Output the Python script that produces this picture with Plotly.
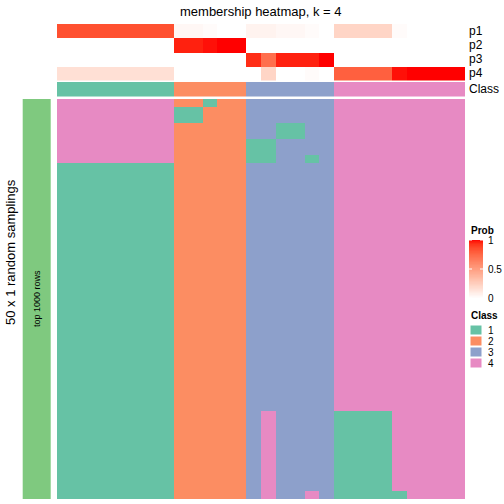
import numpy as np
import plotly.graph_objects as go

# ---------------- data ----------------
columns = list(range(1, 29))
col_class = [1, 1, 1, 1, 1, 1, 1, 1,
             2, 2, 2, 2, 2,
             3, 3, 3, 3, 3, 3,
             4, 4, 4, 4, 4, 4, 4, 4, 4]
p1 = [0.84, 0.84, 0.84, 0.84, 0.84, 0.84, 0.84, 0.84,
      0.04, 0.04, 0.02, 0.00, 0.00,
      0.06, 0.06, 0.04, 0.04, 0.02, 0.00,
      0.22, 0.22, 0.22, 0.22, 0.02, 0.00, 0.00, 0.00, 0.00]
p2 = [0.00, 0.00, 0.00, 0.00, 0.00, 0.00, 0.00, 0.00,
      0.96, 0.96, 0.98, 1.00, 1.00,
      0.00, 0.00, 0.00, 0.00, 0.00, 0.00,
      0.00, 0.00, 0.00, 0.00, 0.00, 0.00, 0.00, 0.00, 0.00]
p3 = [0.00, 0.00, 0.00, 0.00, 0.00, 0.00, 0.00, 0.00,
      0.00, 0.00, 0.00, 0.00, 0.00,
      0.94, 0.72, 0.96, 0.96, 0.96, 1.00,
      0.00, 0.00, 0.00, 0.00, 0.00, 0.00, 0.00, 0.00, 0.00]
p4 = [0.16, 0.16, 0.16, 0.16, 0.16, 0.16, 0.16, 0.16,
      0.00, 0.00, 0.00, 0.00, 0.00,
      0.00, 0.22, 0.00, 0.00, 0.02, 0.00,
      0.78, 0.78, 0.78, 0.78, 0.98, 1.00, 1.00, 1.00, 1.00]
# class of each of the 50 samplings per column, as (class, run length) from top
col_runs = [
    [(4, 8), (1, 42)], [(4, 8), (1, 42)], [(4, 8), (1, 42)], [(4, 8), (1, 42)],
    [(4, 8), (1, 42)], [(4, 8), (1, 42)], [(4, 8), (1, 42)], [(4, 8), (1, 42)],
    [(2, 1), (1, 2), (2, 47)], [(2, 1), (1, 2), (2, 47)],
    [(1, 1), (2, 49)], [(2, 50)], [(2, 50)],
    [(3, 5), (1, 3), (3, 42)],
    [(3, 5), (1, 3), (3, 31), (4, 11)],
    [(3, 3), (1, 2), (3, 45)], [(3, 3), (1, 2), (3, 45)],
    [(3, 7), (1, 1), (3, 41), (4, 1)],
    [(3, 50)],
    [(4, 39), (1, 11)], [(4, 39), (1, 11)], [(4, 39), (1, 11)], [(4, 39), (1, 11)],
    [(4, 49), (1, 1)],
    [(4, 50)], [(4, 50)], [(4, 50)], [(4, 50)],
]
prob_labels = ["p1", "p2", "p3", "p4"]
class_labels = ["1", "2", "3", "4"]
prob_ticks = [0, 0.5, 1]
n_samplings = 50

# ---------------- styles ----------------
class_colors = ["#66C2A5", "#FC8D62", "#8DA0CB", "#E78AC3"]
bar_color = "#7FC97F"
FONT = "Liberation Sans, Arial, sans-serif"
W = H = 504


def px_x(x):
    return x / W


def px_y(y):
    return 1 - y / H


# LAB interpolation white -> red (like colorRamp2)
def srgb_to_lin(c):
    c = np.asarray(c) / 255.0
    return np.where(c <= 0.04045, c / 12.92, ((c + 0.055) / 1.055) ** 2.4)


def lin_to_srgb(c):
    c = np.clip(c, 0, 1)
    return np.where(c <= 0.0031308, 12.92 * c, 1.055 * c ** (1 / 2.4) - 0.055) * 255


M = np.array([[0.4124, 0.3576, 0.1805], [0.2126, 0.7152, 0.0722], [0.0193, 0.1192, 0.9505]])
Minv = np.linalg.inv(M)
WP = np.array([0.95047, 1.0, 1.08883])


def f(t):
    d = 6 / 29
    return np.where(t > d ** 3, np.cbrt(t), t / (3 * d * d) + 4 / 29)


def finv(t):
    d = 6 / 29
    return np.where(t > d, t ** 3, 3 * d * d * (t - 4 / 29))


def rgb_to_lab(rgb):
    xyz = M @ srgb_to_lin(rgb) / WP
    fx, fy, fz = f(xyz)
    return np.array([116 * fy - 16, 500 * (fx - fy), 200 * (fy - fz)])


def lab_to_rgb(lab):
    L, a, b = lab
    fy = (L + 16) / 116
    fx = fy + a / 500
    fz = fy - b / 200
    xyz = np.array([finv(fx), finv(fy), finv(fz)]) * WP
    return lin_to_srgb(Minv @ xyz)


lab_w = rgb_to_lab([255, 255, 255])
lab_r = rgb_to_lab([255, 0, 0])
prob_scale = []
for t in np.linspace(0, 1, 21):
    r, g, b = lab_to_rgb(lab_w + (lab_r - lab_w) * t)
    prob_scale.append([float(t), f"rgb({int(round(r))},{int(round(g))},{int(round(b))})"])

class_scale = []
for i, c in enumerate(class_colors):
    class_scale.append([i / 4, c])
    class_scale.append([(i + 1) / 4, c])

# ---------------- build matrices ----------------
main_z = np.zeros((n_samplings, len(columns)))
for j, runs in enumerate(col_runs):
    r0 = 0
    for cl, n in runs:
        main_z[r0:r0 + n, j] = cl
        r0 += n

prob_z = [p1, p2, p3, p4]

fig = go.Figure()

L, R = 57, 465
fig.add_trace(go.Heatmap(z=main_z, x=columns, y=list(range(n_samplings)),
                         colorscale=class_scale, zmin=0.5, zmax=4.5, showscale=False,
                         xaxis="x", yaxis="y", hoverinfo="skip"))
fig.add_trace(go.Heatmap(z=prob_z, x=columns, y=prob_labels,
                         colorscale=prob_scale, zmin=0, zmax=1, showscale=False,
                         xaxis="x2", yaxis="y2", hoverinfo="skip"))
fig.add_trace(go.Heatmap(z=[col_class], x=columns, y=["Class"],
                         colorscale=class_scale, zmin=0.5, zmax=4.5, showscale=False,
                         xaxis="x3", yaxis="y3", hoverinfo="skip"))
grad = np.linspace(0, 1, 101)
fig.add_trace(go.Heatmap(z=[[v] for v in grad], x=[0], y=grad,
                         colorscale=prob_scale, zmin=0, zmax=1, showscale=False,
                         xaxis="x4", yaxis="y4", hoverinfo="skip"))

ax_hidden = dict(showgrid=False, zeroline=False, showticklabels=False, ticks="", showline=False)
fig.update_layout(
    width=W, height=H, margin=dict(l=0, r=0, t=0, b=0),
    paper_bgcolor="white", plot_bgcolor="white", showlegend=False,
    xaxis=dict(domain=[px_x(L), px_x(R)], range=[0.5, 28.5], **ax_hidden),
    yaxis=dict(domain=[px_y(499), px_y(99)], range=[n_samplings - 0.5, -0.5], **ax_hidden),
    xaxis2=dict(domain=[px_x(L), px_x(R)], range=[0.5, 28.5], anchor="y2", **ax_hidden),
    yaxis2=dict(domain=[px_y(80.5), px_y(24)], range=[3.5, -0.5], anchor="x2", **ax_hidden),
    xaxis3=dict(domain=[px_x(L), px_x(R)], range=[0.5, 28.5], anchor="y3", **ax_hidden),
    yaxis3=dict(domain=[px_y(96.5), px_y(82)], range=[-0.5, 0.5], anchor="x3", **ax_hidden),
    xaxis4=dict(domain=[px_x(469), px_x(483)], range=[-0.5, 0.5], anchor="y4", **ax_hidden),
    yaxis4=dict(domain=[px_y(298), px_y(240)], range=[0, 1], anchor="x4", **ax_hidden),
)

shapes = []
# left bar
shapes.append(dict(type="rect", xref="paper", yref="paper",
                   x0=px_x(22.7), x1=px_x(50.7), y0=px_y(499), y1=px_y(99),
                   fillcolor=bar_color, line=dict(width=0), layer="below"))
# colorbar white tick marks
for v in prob_ticks:
    yy = 298 - v * 58
    for xa, xb in [(469, 472), (480, 483)]:
        shapes.append(dict(type="line", xref="paper", yref="paper",
                           x0=px_x(xa), x1=px_x(xb), y0=px_y(yy), y1=px_y(yy),
                           line=dict(color="white", width=1)))
# class legend boxes
for i, c in enumerate(class_colors):
    y0 = 325 + i * 11
    shapes.append(dict(type="rect", xref="paper", yref="paper",
                       x0=px_x(470), x1=px_x(482), y0=px_y(y0 + 10), y1=px_y(y0),
                       fillcolor=c, line=dict(color="white", width=1)))

ann = []
ann.append(dict(text="membership heatmap, k = 4", x=px_x(261), y=px_y(11), xref="paper", yref="paper",
                showarrow=False, font=dict(family=FONT, size=13, color="black"),
                xanchor="center", yanchor="middle"))
for i, lab in enumerate(prob_labels):
    ann.append(dict(text=lab, x=px_x(467), y=px_y(31 + 14 * i), xref="paper", yref="paper",
                    showarrow=False, font=dict(family=FONT, size=12, color="black"),
                    xanchor="left", yanchor="middle"))
ann.append(dict(text="Class", x=px_x(467), y=px_y(89), xref="paper", yref="paper",
                showarrow=False, font=dict(family=FONT, size=12, color="black"),
                xanchor="left", yanchor="middle"))
ann.append(dict(text="50 x 1 random samplings", x=px_x(10), y=px_y(252), xref="paper", yref="paper",
                showarrow=False, textangle=-90, font=dict(family=FONT, size=13, color="black"),
                xanchor="center", yanchor="middle"))
ann.append(dict(text="top 1000 rows", x=px_x(37), y=px_y(299), xref="paper", yref="paper",
                showarrow=False, textangle=-90, font=dict(family=FONT, size=9, color="black"),
                xanchor="center", yanchor="middle"))
ann.append(dict(text="<b>Prob</b>", x=px_x(469), y=px_y(231), xref="paper", yref="paper",
                showarrow=False, font=dict(family=FONT, size=10, color="black"),
                xanchor="left", yanchor="middle"))
for v in prob_ticks:
    ann.append(dict(text=f"{v:g}", x=px_x(486), y=px_y(298 - v * 58), xref="paper", yref="paper",
                    showarrow=False, font=dict(family=FONT, size=10, color="black"),
                    xanchor="left", yanchor="middle"))
ann.append(dict(text="<b>Class</b>", x=px_x(469), y=px_y(315), xref="paper", yref="paper",
                showarrow=False, font=dict(family=FONT, size=10, color="black"),
                xanchor="left", yanchor="middle"))
for i, lab in enumerate(class_labels):
    ann.append(dict(text=lab, x=px_x(486), y=px_y(330 + i * 11), xref="paper", yref="paper",
                    showarrow=False, font=dict(family=FONT, size=10, color="black"),
                    xanchor="left", yanchor="middle"))

fig.update_layout(shapes=shapes, annotations=ann)
fig.write_html("out.html", config={"displayModeBar": False, "staticPlot": True},
               post_script="document.body.style.margin='0px';document.body.style.overflow='hidden';")
